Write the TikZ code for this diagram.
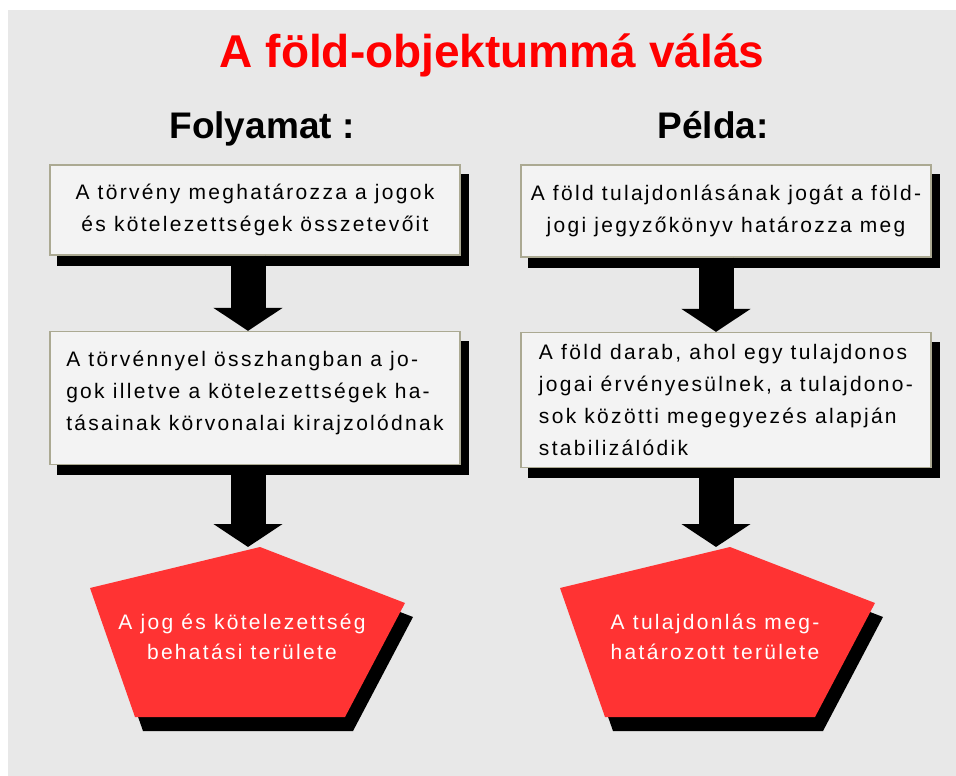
\documentclass[tikz,border=0pt]{standalone}
\usepackage{fontspec}
\setmainfont{Liberation Sans}
\newfontfamily\boxfont[LetterSpace=11]{Liberation Sans}
\usetikzlibrary{positioning,backgrounds,arrows.meta,calc}
\definecolor{slidegray}{HTML}{E8E8E8}
\definecolor{boxfill}{HTML}{F3F3F3}
\definecolor{boxline}{HTML}{ABA992}
\definecolor{titlered}{HTML}{FF0000}
\definecolor{fieldred}{HTML}{FF3333}

\begin{document}
\begin{tikzpicture}[x=1pt,y=-1pt,
      panel/.style={draw=boxline,line width=1.2pt,fill=boxfill,minimum width=410pt,inner sep=0pt,
        font=\boxfont\fontsize{21}{32}\selectfont},
      fieldtext/.style={text=white,align=center,inner sep=0pt,font=\boxfont\fontsize{21}{30}\selectfont},
      heading/.style={anchor=base,inner sep=0pt,font=\bfseries\fontsize{37}{40}\selectfont},
      blockarrow/.style={line width=35pt,-{Triangle[width=68pt,length=23pt]}}]
    \useasboundingbox (0,0) rectangle (956,776);
    % title and column heads
    \node[heading,font=\bfseries\fontsize{46}{50}\selectfont,text=titlered] (title) at (492,68) {A föld-objektummá válás};
    \node[heading] (proc) at (262,138) {Folyamat :};
    \node[heading] (example) at (713,138) {Példa:};
    % process column
    \node[panel,minimum height=90pt,align=center] (law) at (255,210)
      {A törvény meghatározza a jogok\\és kötelezettségek összetevőit};
    \node[panel,minimum height=133pt,align=left] (scope) at (255,398)
      {A törvénnyel összhangban a jo-\\gok illetve a kötelezettségek ha-\\tásainak körvonalai kirajzolódnak\\[-18pt]\mbox{}};
    % example column
    \node[panel,minimum height=92pt,align=center] (deed) at (726,211)
      {A föld tulajdonlásának jogát a föld-\\jogi jegyzőkönyv határozza meg};
    \node[panel,minimum height=135pt,align=left] (parcel) at (726,400)
      {A föld darab, ahol egy tulajdonos\\jogai érvényesülnek, a tulajdono-\\sok közötti megegyezés alapján\\stabilizálódik};
    % result fields
    \coordinate (ltop) at (260,547);
    \coordinate (rtop) at (730,547);
    \fill[fieldred,shift={(ltop)}] (0,0) -- (-170,41) -- (-125,170) -- (85,170) -- (145,56) -- cycle;
    \fill[fieldred,shift={(rtop)}] (0,0) -- (-170,41) -- (-125,170) -- (85,170) -- (145,56) -- cycle;
    \node[fieldtext] (lfield) at (242,637) {A jog és kötelezettség\\behatási területe};
    \node[fieldtext] (rfield) at (715,637) {A tulajdonlás meg-\\határozott területe};
    % arrows
    \draw[blockarrow] ([xshift=-7pt]law.south) -- ([xshift=-7pt]scope.north);
    \draw[blockarrow] ([xshift=-7pt]scope.south) -- ([xshift=-7pt]scope.south |- ltop);
    \draw[blockarrow] ([xshift=-10pt]deed.south) -- ([xshift=-10pt]parcel.north);
    \draw[blockarrow] ([xshift=-10pt]parcel.south) -- ([xshift=-10pt]parcel.south |- rtop);
    % slide and shadows
    \begin{scope}[on background layer]
      \fill[slidegray] (8,10) rectangle (956,776);
      \foreach \p in {law,scope,deed,parcel}
        \fill[black] ([xshift=8pt,yshift=-10pt]\p.south west) rectangle ([xshift=8pt,yshift=-10pt]\p.north east);
      \fill[black,shift={(268,561)}] (0,0) -- (-170,41) -- (-125,170) -- (85,170) -- (145,56) -- cycle;
      \fill[black,shift={(738,561)}] (0,0) -- (-170,41) -- (-125,170) -- (85,170) -- (145,56) -- cycle;
    \end{scope}
  \end{tikzpicture}
\end{document}
